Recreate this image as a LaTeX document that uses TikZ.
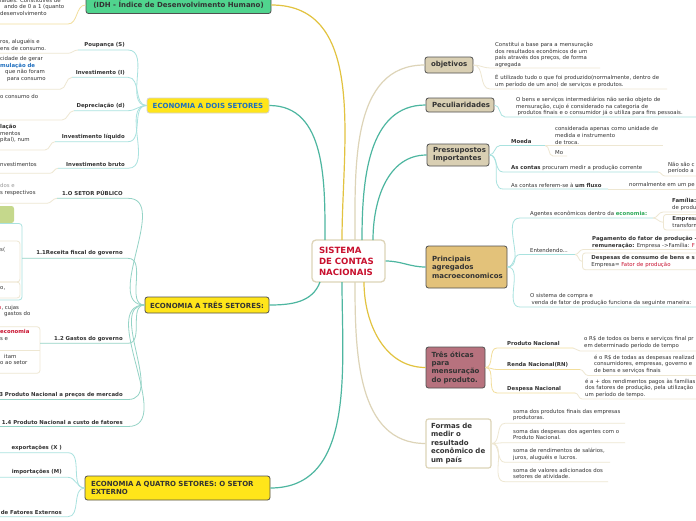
\documentclass[tikz,border=0pt]{standalone}
\usepackage{fontspec}
\setmainfont{DejaVu Sans}
\definecolor{txt}{HTML}{333333}
\definecolor{dk}{HTML}{505050}
\definecolor{crim}{HTML}{C8102E}
\definecolor{teal1}{HTML}{4DB6A0}
\definecolor{tealL}{HTML}{A9E2DF}
\definecolor{yel}{HTML}{E2C340}
\definecolor{yelL}{HTML}{F2DE9C}
\definecolor{bei}{HTML}{DDD4B8}
\definecolor{beiL}{HTML}{EEE7D2}
\definecolor{tan}{HTML}{D9CFB3}
\definecolor{gold}{HTML}{E3C27A}
\definecolor{mauve}{HTML}{B7727E}
\definecolor{ybox}{HTML}{FFE51A}
\definecolor{gbox}{HTML}{50D48E}
\definecolor{blu}{HTML}{1F6FBF}
\definecolor{grn}{HTML}{2EAA5A}
\definecolor{olive}{HTML}{C5D88C}
\definecolor{gry}{HTML}{999999}
\begin{document}
\begin{tikzpicture}[x=1pt,y=-1pt,
 sm/.style={inner sep=0pt, anchor=west, align=left, text=txt, font=\fontsize{5.4}{6.6}\selectfont},
 smb/.style={sm, font=\bfseries\fontsize{5.4}{6.6}\selectfont},
 lb/.style={inner sep=0pt, anchor=east, align=right, text=txt, font=\bfseries\fontsize{5.4}{6.6}\selectfont},
 topic/.style={draw=dk, line width=0.8pt, rounded corners=2.5pt, inner xsep=6pt, inner ysep=0pt, align=left, text=txt, font=\bfseries\fontsize{7}{8.4}\selectfont},
 gbox/.style={sm, draw=beiL, line width=0.8pt, rounded corners=3pt, anchor=north west, inner xsep=9pt, inner ysep=2.5pt},
 lT/.style={draw=teal1, line width=1.2pt},
 lY/.style={draw=yel, line width=1.2pt},
 lB/.style={draw=bei, line width=1.2pt},
 cT/.style={draw=tealL, line width=0.8pt},
 cY/.style={draw=yelL, line width=0.8pt},
 cB/.style={draw=beiL, line width=0.8pt}
]
\clip (0,0) rectangle (696,520);
\fill[white] (0,0) rectangle (696,520);

% ---------- main topic boxes ----------
\node[topic, draw=bei, line width=1.3pt, fill=white, text=crim, font=\bfseries\fontsize{8.6}{11}\selectfont, inner xsep=7pt, text width=59pt, minimum height=42pt, rounded corners=4pt] (ctr) at (348.5,261) {SISTEMA\\DE CONTAS\\NACIONAIS};

\node[topic, fill=tan, text width=36pt, minimum height=16pt] (obj) at (449,65) {objetivos};
\node[topic, fill=tan, text width=56pt, minimum height=14pt] (pec) at (460,105) {Peculiaridades};
\node[topic, fill=tan, text width=50pt, minimum height=22pt, font=\bfseries\fontsize{7}{8}\selectfont] (pres) at (458,155) {Pressupostos\\Importantes};
\node[topic, fill=gold, text width=69pt, minimum height=42pt, font=\bfseries\fontsize{7}{8.5}\selectfont] (prin) at (466.5,267) {Principais\\agregados\\macroeconomicos};
\node[topic, fill=mauve, text width=48pt, minimum height=41pt, inner xsep=5.5pt, font=\bfseries\fontsize{7}{8.3}\selectfont] (tres) at (455.5,367.5) {Três óticas\\para\\mensuração\\do produto.};
\node[topic, draw=bei, line width=1.2pt, fill=white, text width=55pt, inner xsep=5pt, minimum height=49pt, font=\bfseries\fontsize{7}{8.5}\selectfont] (formas) at (458.5,443.5) {Formas de\\medir o\\resultado\\econômico de\\um país};

\node[topic, fill=gbox, draw=dk, minimum width=185pt, minimum height=17pt, inner xsep=3pt] (idh) at (178.5,5) {(IDH - Índice de Desenvolvimento Humano)};
\node[topic, fill=ybox, draw=gray!35, text=blu, minimum width=122pt, minimum height=15pt, inner xsep=3pt] (dois) at (208,105.5) {ECONOMIA A DOIS SETORES};
\node[topic, fill=ybox, minimum width=124pt, minimum height=16pt, inner xsep=3pt] (tresset) at (207,305) {ECONOMIA A TRÊS SETORES:};
\node[topic, fill=ybox, text width=173pt, minimum height=24pt] (quatro) at (177.5,488) {ECONOMIA A QUATRO SETORES: O SETOR\\EXTERNO};

% ---------- connectors from the centre ----------
\coordinate (ct1) at (325,240);
\coordinate (ct2) at (342,240);
\coordinate (ct3) at (355,240);
\coordinate (ct4) at (362,240);
\coordinate (ct5) at (373,240);
\coordinate (cb1) at (364,282);
\coordinate (cb2) at (355,282);
\coordinate (cb3) at (342,282);
\coordinate (cb4) at (320,282);
\draw[lT] (ct1) to[out=90,in=0] (dois.east);
\draw[lY] (ct2) to[out=90,in=0] (idh.east);
\draw[lB] (ct3) to[out=90,in=180] (obj.west);
\draw[lT] (ct4) to[out=90,in=180] (pec.west);
\draw[lT] (ct5) to[out=90,in=180] (pres.west);
\draw[lT] (ctr.east) to[out=0,in=180] (prin.west);
\draw[lY] (cb1) to[out=-90,in=180] (tres.west);
\draw[lB] (cb2) to[out=-90,in=180] (formas.west);
\draw[lT] (cb3) to[out=-90,in=0] (quatro.east);
\draw[lT] (cb4) to[out=-110,in=0] (tresset.east);

% ---------- objetivos ----------
\node[sm] (o1) at (495,55) {Constitui a base para a mensuração\\dos resultados econômicos de um\\país através dos preços, de forma\\agregada};
\node[sm] (o2) at (495,81) {É utilizado tudo o que foi produzido(normalmente, dentro de\\um período de um ano) de serviços e produtos.};
\coordinate (o1a) at (490,68); \coordinate (o1b) at (600,68);
\coordinate (o2a) at (490,89); \coordinate (o2b) at (667,89);
\draw[cB] (obj.east) to[out=0,in=180] (o1a) -- (o1b);
\draw[cB] (obj.east) to[out=0,in=180] (o2a) -- (o2b);

% ---------- Peculiaridades ----------
\node[sm] (p1) at (516,106.5) {O bens e serviços intermediários não serão objeto de\\mensuração, cujo é considerado na categoria de\\\hspace*{1.5pt}produtos finais e o consumidor já o utiliza para fins pessoais.};
\coordinate (p1a) at (505,117); \coordinate (p1b) at (696,117);
\draw[cT] (pec.east) to[out=0,in=180] (p1a) -- (p1b);

% ---------- Pressupostos ----------
\node[smb] (moe) at (511,141) {Moeda};
\node[sm] (moe1) at (555,135.5) {considerada apenas como unidade de\\medida e instrumento\\de troca.};
\node[sm] (moe2) at (555,152.5) {Mo};
\node[sm] (ac1) at (511,168) {\textbf{As contas} procuram medir a produção corrente};
\node[sm] (ac1c) at (668,168) {Não são c\\período a};
\node[sm] (ac2) at (511,185) {As contas referem-se à \textbf{um fluxo}};
\node[sm] (ac2c) at (629,185) {normalmente em um pe};
\coordinate (m0) at (500,145.5); \coordinate (m1) at (545,145.5); \coordinate (m2) at (663,145.5);
\coordinate (m3) at (553,156); \coordinate (m4) at (567,156);
\coordinate (a1) at (503,172); \coordinate (a2) at (658,172); \coordinate (a3) at (665,176); \coordinate (a4) at (696,176);
\coordinate (b1) at (503,189); \coordinate (b2) at (608,189); \coordinate (b3) at (696,189);
\draw[cT] (pres.east) to[out=0,in=180] (m0) -- (m1);
\draw[cB] (m1) -- (m2);
\draw[cB] (m1) to[out=0,in=180] (m3) -- (m4);
\draw[cT] (pres.east) to[out=0,in=180] (a1) -- (a2);
\draw[cB] (a2) to[out=0,in=180] (a3) -- (a4);
\draw[cT] (pres.east) to[out=0,in=180] (b1) -- (b2);
\draw[cB] (b2) -- (b3);

% ---------- Principais agregados ----------
\node[sm] (ag) at (530,214) {Agentes econômicos dentro da \textcolor{grn}{\textbf{economia:}}};
\node[sm] (fam) at (672,204.5) {\textbf{Família:}\\de produ};
\node[gbox, text width=40pt] (emp) at (663,214) {\textbf{Empresa}\\transform};
\node[sm] (ent) at (530,250) {Entendendo...};
\node[sm] (pag) at (592,242.5) {\textbf{Pagamento do fator de produção -}\\\textbf{remuneração:} Empresa ->Família: \textcolor{crim}{F}};
\node[gbox, text width=120pt] (desp) at (582,252.5) {\textbf{Despesas de consumo de bens e s}\\Empresa= \textcolor{crim}{Fator de produção}};
\node[sm] (sis) at (530,299.5) {O sistema de compra e\\\hspace*{1.5pt}venda de fator de produção funciona da seguinte maneira:};
\coordinate (g1) at (520,218); \coordinate (g2) at (653,218); \coordinate (g3) at (663,212); \coordinate (g4) at (696,212);
\coordinate (e1) at (520,254.5); \coordinate (e2) at (575,254.5); \coordinate (e3) at (583,249.5); \coordinate (e4) at (696,249.5);
\coordinate (s1) at (520,307); \coordinate (s2) at (696,307);
\draw[cT] (prin.east) to[out=0,in=180] (g1) -- (g2);
\draw[cB] (g2) to[out=0,in=180] (g3) -- (g4);
\draw[cB] (g2) to[out=0,in=180] (emp.west);
\draw[cT] (prin.east) to[out=0,in=180] (e1) -- (e2);
\draw[cB] (e2) to[out=0,in=180] (e3) -- (e4);
\draw[cB] (e2) to[out=0,in=180] (desp.west);
\draw[cT] (prin.east) to[out=0,in=180] (s1) -- (s2);

% ---------- Tres oticas ----------
\node[smb] (pn) at (507,343.5) {Produto Nacional};
\node[sm] (pnc) at (584,342.7) {o R\$ de todos os bens e serviços final pr\\em determinado período de tempo};
\node[smb] (rn) at (507,365) {Renda Nacional(RN)};
\node[sm] (rnc) at (594,364.3) {é o R\$ de todas as despesas realizad\\consumidores, empresas, governo e\\de bens e serviços finais};
\node[smb] (dn) at (507,389.3) {Despesa Nacional};
\node[sm] (dnc) at (585,388.3) {é a + dos rendimentos pagos às famílias\\dos fatores de produção, pela utilização\\um período de tempo.};
\coordinate (n1) at (497,348); \coordinate (n2) at (573,348); \coordinate (n3) at (580,351); \coordinate (n4) at (696,351);
\coordinate (r1) at (497,369.5); \coordinate (r2) at (580,369.5); \coordinate (r3) at (588,375.5); \coordinate (r4) at (696,375.5);
\coordinate (d1) at (497,393); \coordinate (d2) at (575,393); \coordinate (d3) at (582,399); \coordinate (d4) at (696,399);
\draw[cY] (tres.east) to[out=0,in=180] (n1) -- (n2);
\draw[cB] (n2) to[out=0,in=180] (n3) -- (n4);
\draw[cY] (tres.east) to[out=0,in=180] (r1) -- (r2);
\draw[cB] (r2) to[out=0,in=180] (r3) -- (r4);
\draw[cY] (tres.east) to[out=0,in=180] (d1) -- (d2);
\draw[cB] (d2) to[out=0,in=180] (d3) -- (d4);

% ---------- Formas de medir ----------
\node[sm] (f1) at (513,415) {soma dos produtos finais das empresas\\produtoras.};
\node[sm] (f2) at (513,434.5) {soma das despesas dos agentes com o\\Produto Nacional.};
\node[sm] (f3) at (513,454.2) {soma de rendimentos de salários,\\juros, aluguéis e lucros.};
\node[sm] (f4) at (513,473.4) {soma de valores adicionados dos\\setores de atividade.};
\coordinate (f1a) at (505,423.3); \coordinate (f1b) at (625,423.3);
\coordinate (f2a) at (505,442.7); \coordinate (f2b) at (625,442.7);
\coordinate (f3a) at (505,462.3); \coordinate (f3b) at (610,462.3);
\coordinate (f4a) at (505,481.7); \coordinate (f4b) at (608,481.7);
\draw[cB] (formas.east) to[out=0,in=180] (f1a) -- (f1b);
\draw[cB] (formas.east) to[out=0,in=180] (f2a) -- (f2b);
\draw[cB] (formas.east) to[out=0,in=180] (f3a) -- (f3b);
\draw[cB] (formas.east) to[out=0,in=180] (f4a) -- (f4b);

% ---------- IDH ----------
\node[sm] (idhc) at (0,6.7) {ialdes. Constituíres de\\\hspace*{4pt}ando de 0 a 1 (quanto\\desenvolvimento};
\coordinate (i1) at (0,24); \coordinate (i2) at (68,24);
\draw[cY] (i1) -- (i2) to[out=0,in=180] (idh.west);

% ---------- Dois setores ----------
\node[lb] (pou) at (125,45) {Poupança (S)};
\node[sm] (pouc) at (0,45) {ros, aluguéis e\\ens de consumo.};
\node[lb] (inv) at (125,72.7) {Investimento (I)};
\node[sm] (invc) at (0,69) {cidade de gerar\\\textcolor{blu}{\textbf{mulação de}}\\\hspace*{5pt}que não foram\\\hspace*{7pt}para consumo};
\node[lb] (dep) at (125,106) {Depreciação (d)};
\node[sm] (depc) at (0,96.7) {o consumo do};
\node[lb] (il) at (125,136.7) {Investimento líquido};
\node[sm] (ilc) at (0,133.5) {\textbf{lação}\\mentos\\pital), num};
\node[lb] (ib) at (125,164) {Investimento bruto};
\node[sm] (ibc) at (0,164) {nvestimentos};
\coordinate (u1a) at (78,50); \coordinate (u1b) at (128,50); \coordinate (v1a) at (0,53.3); \coordinate (v1b) at (68,53.3);
\coordinate (u2a) at (72,77.3); \coordinate (u2b) at (128,77.3); \coordinate (v2a) at (0,89.3); \coordinate (v2b) at (60,89.3);
\coordinate (u3a) at (74,110.7); \coordinate (u3b) at (128,110.7); \coordinate (v3a) at (0,120); \coordinate (v3b) at (62,120);
\coordinate (u4a) at (55,141.7); \coordinate (u4b) at (128,141.7); \coordinate (v4a) at (0,150); \coordinate (v4b) at (45,150);
\coordinate (u5a) at (58,168.3); \coordinate (u5b) at (128,168.3); \coordinate (v5a) at (0,173.3); \coordinate (v5b) at (50,173.3);
\foreach \k in {1,...,5}{
  \draw[cT] (dois.west) to[out=180,in=0] (u\k b) -- (u\k a);
  \draw[cB] (v\k a) -- (v\k b) to[out=0,in=180] (u\k a);
}

% ---------- Tres setores ----------
\node[lb] (sp) at (123,192.7) {1.O SETOR PÚBLICO};
\node[sm] (spc) at (0,189.3) {\textcolor{gry}{dos e}\\s respectivos};
\fill[olive, rounded corners=2.5pt] (-5,206) rectangle (14,223);
\draw[cT, rounded corners=3pt] (-5,223.5) -- (22,223.5) -- (22,300) -- (-5,300);
\draw[cB, rounded corners=3pt] (-5,241) -- (20,241) -- (20,282) -- (-5,282);
\draw[cB, rounded corners=3pt] (-5,282) -- (20,282) -- (20,298) -- (-5,298);
\node[sm] (s1t) at (0,250) {s(};
\node[sm] (s2t) at (0,288.3) {o,};
\node[lb] (rf) at (123,252.7) {1.1Receita fiscal do governo};
\node[sm] (cuj) at (-2,311) {\textcolor{crim}{o}, cujas\\\hspace*{6pt}gastos do};
\node[lb] (gg) at (123,339.3) {1.2 Gastos do governo};
\draw[cB, rounded corners=3pt] (-5,326.7) -- (40,326.7) -- (40,373.3) -- (-5,373.3);
\draw[cB] (-5,350.7) -- (40,350.7);
\node[sm] (gg1) at (0,335) {\textcolor{crim}{\textbf{economia}}\\s e};
\node[sm] (gg2) at (0,359.3) {\hspace*{4pt}itam\\o ao setor};
\node[lb] (pm) at (123,395) {1.3 Produto Nacional a preços de mercado};
\node[lb] (pcf) at (123,422.3) {1.4 Produto Nacional a custo de fatores};
\coordinate (t1a) at (57,198.3); \coordinate (t1b) at (128,198.3);
\coordinate (w1a) at (0,203.3); \coordinate (w1b) at (47,203.3);
\coordinate (t2a) at (22,258.3); \coordinate (t2b) at (128,258.3);
\coordinate (t3a) at (40,343.3); \coordinate (t3b) at (128,343.3);
\coordinate (t4a) at (0,399.5); \coordinate (t4b) at (128,399.5);
\coordinate (t5a) at (0,426.5); \coordinate (t5b) at (128,426.5);
\foreach \k in {1,...,5}{
  \draw[cT, draw=teal1!60] (tresset.west) to[out=180,in=0] (t\k b) -- (t\k a);
}
\draw[cB] (w1a) -- (w1b) to[out=0,in=180] (t1a);

% ---------- Quatro setores ----------
\node[lb] (ex) at (62,448.3) {exportações (X )};
\node[lb] (im) at (62,471.7) {importações (M)};
\node[lb] (rfe) at (62,512.3) {de Fatores Externos};
\coordinate (q1a) at (0,452.7); \coordinate (q1b) at (68,452.7);
\coordinate (q2a) at (0,477.3); \coordinate (q2b) at (68,477.3);
\coordinate (q3a) at (0,516.7); \coordinate (q3b) at (68,516.7);
\foreach \k in {1,2,3}{
  \draw[cT] (quatro.west) to[out=180,in=0] (q\k b) -- (q\k a);
}
\end{tikzpicture}
\end{document}
